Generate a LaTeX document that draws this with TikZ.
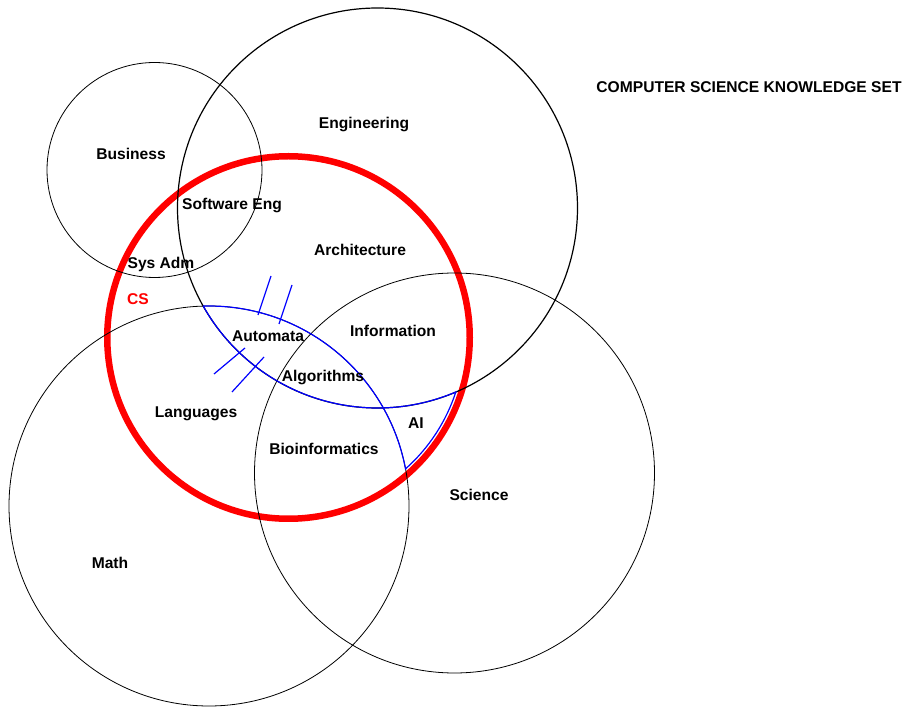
\documentclass[tikz,border=0pt]{standalone}
\usepackage{fontspec}
\setmainfont{Liberation Sans}
\usepackage{tikz}

\begin{document}
\begin{tikzpicture}
    [x = 1pt, y = -1pt, every node/.style = {font = \fontsize{15.6}{18}\selectfont\bfseries,
       text height = 11.2pt, text depth = 0pt},
     set/.style = {draw = black, line width = .8pt},
     cs/.style = {draw = red, line width = 6.5pt},
     lane/.style = {draw = blue, line width = 1.2pt}]
    \useasboundingbox (0,0) rectangle (906,708);

    % the CS set lies under the other circles
    \draw[cs] (288.5,337.5) circle [radius = 181.25];
    \draw[set] (154.5,170) circle [radius = 107.5];
    \draw[set, line width = 1.2pt] (377.5,208) circle [radius = 200];
    \draw[set] (209,506) circle [radius = 200];
    \draw[set] (454.5,473) circle [radius = 200];

    % Math, CS and Engineering arcs
    \draw[lane] (203.2,306.1) arc [start angle = -91.66, end angle = -10.69, radius = 200]
      arc [start angle = 48.31, end angle = 18.04, radius = 176]
      arc [start angle = 66.95, end angle = 150.63, radius = 200];

    \foreach \x/\y/\u/\v in {271/276/258/315, 292/285/279/324, 245/348/214/374, 264/357/232/392}
      \draw[lane] (\x,\y) -- (\u,\v);

    \node (title) at (749,87) {COMPUTER SCIENCE KNOWLEDGE SET};
    \node (eng) at (364,123) {Engineering};
    \node (bus) at (131,154) {Business};
    \node (sweng) at (232,204) {Software Eng};
    \node (arch) at (360,250) {Architecture};
    \node (sysadm) at (161,263) {Sys Adm};
    \node[text = red] (cs) at (138,299) {CS};
    \node (auto) at (268,336) {Automata};
    \node (info) at (393,331) {Information};
    \node (algo) at (323,376) {Algorithms};
    \node (lang) at (196,412) {Languages};
    \node (ai) at (416,423) {AI};
    \node (bio) at (324,449) {Bioinformatics};
    \node (sci) at (479,495) {Science};
    \node (math) at (110,563) {Math};
\end{tikzpicture}
\end{document}
